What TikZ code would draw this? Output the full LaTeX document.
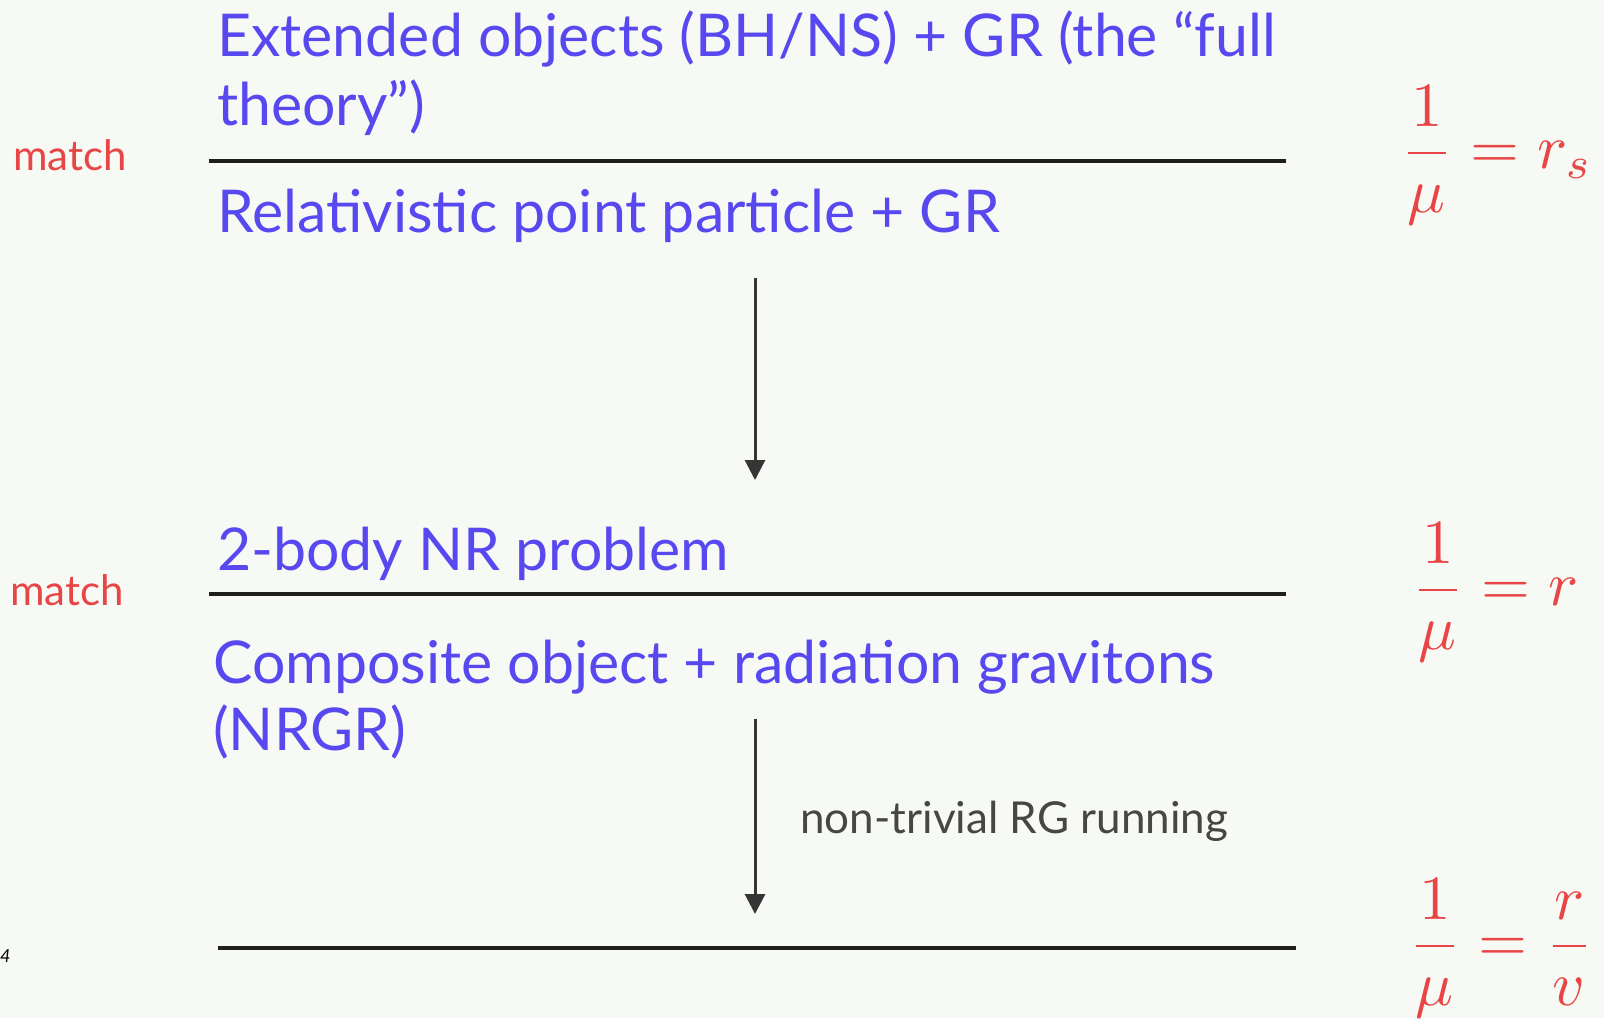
\documentclass[tikz,border=0pt]{standalone}
\usepackage{fontspec}
\setmainfont{Lato}
\usetikzlibrary{arrows.meta}
\definecolor{bgc}{RGB}{247,250,244}
\definecolor{bluetxt}{RGB}{88,72,240}
\definecolor{redtxt}{RGB}{232,70,70}
\definecolor{graytxt}{RGB}{70,70,70}
\definecolor{linec}{RGB}{30,30,30}
\newcommand{\bigmath}[1]{\scalebox{6.3}{$\displaystyle #1$}}
\tikzset{
  maintext/.style={anchor=base west, inner sep=0pt, text=bluetxt, font=\fontsize{59}{66}\selectfont},
  matchtext/.style={anchor=base west, inner sep=0pt, text=redtxt, font=\fontsize{42}{46}\selectfont},
  scaletext/.style={anchor=west, inner sep=0pt, text=redtxt, font=\fontsize{10}{12}\selectfont},
  sepline/.style={draw=linec, line width=4pt},
  flowarrow/.style={draw=linec!90, line width=3pt, -{Triangle[length=20pt,width=20pt]}},
  notetext/.style={anchor=base west, inner sep=0pt, text=graytxt, font=\fontsize{44}{50}\selectfont},
}
\begin{document}
\begin{tikzpicture}[x=1pt,y=-1pt]
\fill[bgc] (0,0) rectangle (1604,1018);
\useasboundingbox (0,0) rectangle (1604,1018);
% blue texts
\node[maintext] (t1a) at (217,56) {Extended objects (BH/NS) + GR (the “full};
\node[maintext] (t1b) at (217,125) {theory”)};
\node[maintext] (t2) at (217,232) {Relativistic point particle + GR};
\node[maintext] (t3) at (217,570) {2-body NR problem};
\node[maintext] (t4a) at (213,683) {Composite object + radiation gravitons};
\node[maintext] (t4b) at (213,750) {(NRGR)};
% match labels
\node[matchtext] (m1) at (13,170) {match};
\node[matchtext] (m2) at (10,605) {match};
% lines
\coordinate (l1a) at (209,161); \coordinate (l1b) at (1286,161);
\coordinate (l2a) at (209,594); \coordinate (l2b) at (1286,594);
\coordinate (l3a) at (218,948); \coordinate (l3b) at (1296,948);
\draw[sepline] (l1a) -- (l1b);
\draw[sepline] (l2a) -- (l2b);
\draw[sepline] (l3a) -- (l3b);
% arrows
\coordinate (a1s) at (755,278); \coordinate (a1e) at (755,480);
\coordinate (a2s) at (755,719); \coordinate (a2e) at (755,914);
\draw[flowarrow] (a1s) -- (a1e);
\draw[flowarrow] (a2s) -- (a2e);
\node[notetext] (rg) at (800,833) {non-trivial RG running};
% scales
\node[scaletext] (s1) at (1400,155) {\bigmath{\frac{1}{\mu}=r_s}};
\node[scaletext] (s2) at (1411,592) {\bigmath{\frac{1}{\mu}=r}};
\node[scaletext] (s3) at (1408,948) {\bigmath{\frac{1}{\mu}=\frac{r}{v}}};
% page number
\node[anchor=base west, inner sep=0pt, font=\fontsize{18}{20}\selectfont\itshape] (pg) at (0,962) {4};
\end{tikzpicture}
\end{document}
